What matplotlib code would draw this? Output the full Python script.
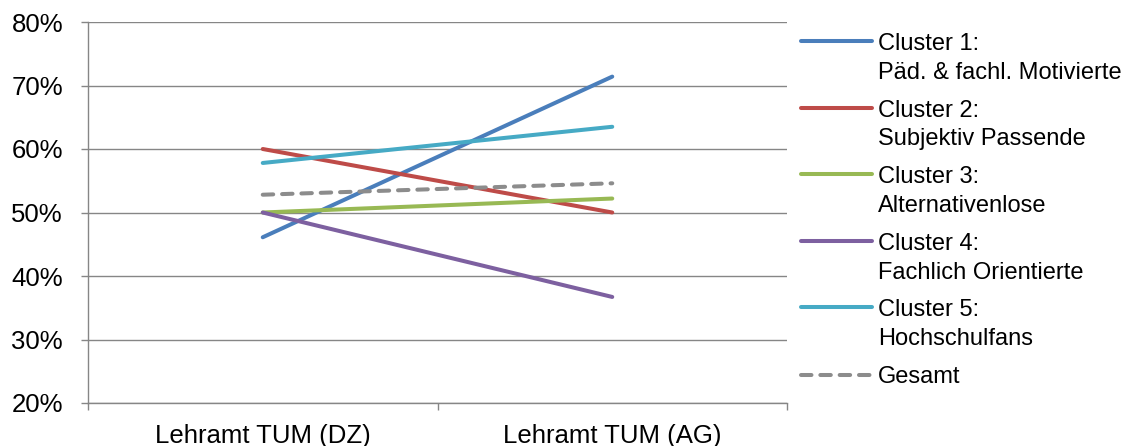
import matplotlib
matplotlib.use("Agg")
import matplotlib.pyplot as plt
from matplotlib.ticker import FuncFormatter, FixedLocator
from matplotlib.legend_handler import HandlerLine2D

plt.rcParams['font.family'] = ['Liberation Sans', 'DejaVu Sans']

categories = ["Lehramt TUM (DZ)", "Lehramt TUM (AG)"]
series_names = [
    "Cluster 1:\nPäd. & fachl. Motivierte",
    "Cluster 2:\nSubjektiv Passende",
    "Cluster 3:\nAlternativenlose",
    "Cluster 4:\nFachlich Orientierte",
    "Cluster 5:\nHochschulfans",
    "Gesamt",
]
cluster1 = [46.1, 71.4]
cluster2 = [60.0, 50.0]
cluster3 = [50.0, 52.2]
cluster4 = [50.0, 36.7]
cluster5 = [57.8, 63.5]
gesamt = [52.8, 54.6]
yticks = [20, 30, 40, 50, 60, 70, 80]

values = [cluster1, cluster2, cluster3, cluster4, cluster5, gesamt]
colors = ["#4A7EBB", "#BE4B48", "#98B954", "#7D60A0", "#46AAC5", "#8C8C8C"]
styles = ["-", "-", "-", "-", "-", (0, (2.6, 2.2))]


class TopHandler(HandlerLine2D):
    def __init__(self, shift, **kw):
        super().__init__(**kw)
        self.shift = shift

    def create_artists(self, legend, orig_handle, xdescent, ydescent, width,
                       height, fontsize, trans):
        arts = super().create_artists(legend, orig_handle, xdescent, ydescent,
                                      width, height, fontsize, trans)
        for a in arts:
            a.set_ydata([y + self.shift for y in a.get_ydata()])
        return arts


fig = plt.figure(figsize=(11.26, 4.46), dpi=100)
ax = fig.add_axes([88/1126, 1-403/446, (787-88)/1126, (403-22)/446])

x = list(range(len(categories)))
lines = []
for vals, name, c, ls in zip(values, series_names, colors, styles):
    ln, = ax.plot(x, vals, color=c, lw=2.9, ls=ls, label=name,
                  solid_capstyle='round', dash_capstyle='round')
    lines.append(ln)

gridc = "#868686"
ax.set_xlim(-0.5, 1.5)
ax.set_ylim(20, 80)
ax.yaxis.set_major_locator(FixedLocator(yticks))
ax.yaxis.set_major_formatter(FuncFormatter(lambda v, p: f"{int(round(v))}%"))
ax.grid(axis='y', color=gridc, lw=1.0)
ax.set_axisbelow(True)
for s in ["top", "right"]:
    ax.spines[s].set_visible(False)
for s in ["left", "bottom"]:
    ax.spines[s].set_color(gridc)
    ax.spines[s].set_linewidth(1.0)

ax.set_xticks(x)
ax.set_xticklabels(categories)
ax.set_xticks([-0.5, 0.5, 1.5], minor=True)
ax.tick_params(axis='x', which='major', length=0, pad=15, labelsize=18.5)
ax.tick_params(axis='x', which='minor', length=5, color=gridc, width=1.0)
ax.tick_params(axis='y', length=5, color=gridc, width=1.0, pad=13, labelsize=18.5)

hmap = {ln: TopHandler(12.7) for ln, n in zip(lines, series_names) if "\n" in n}
leg = fig.legend(handles=lines, loc='upper left',
                 bbox_to_anchor=(801/1126, 1-33/446),
                 frameon=False, fontsize=17, handlelength=3.0,
                 handletextpad=0.25, labelspacing=0.67, borderaxespad=0,
                 borderpad=0, handler_map=hmap)
for t in leg.get_texts():
    t.set_linespacing(1.4)

fig.savefig("out.png", dpi=100)
